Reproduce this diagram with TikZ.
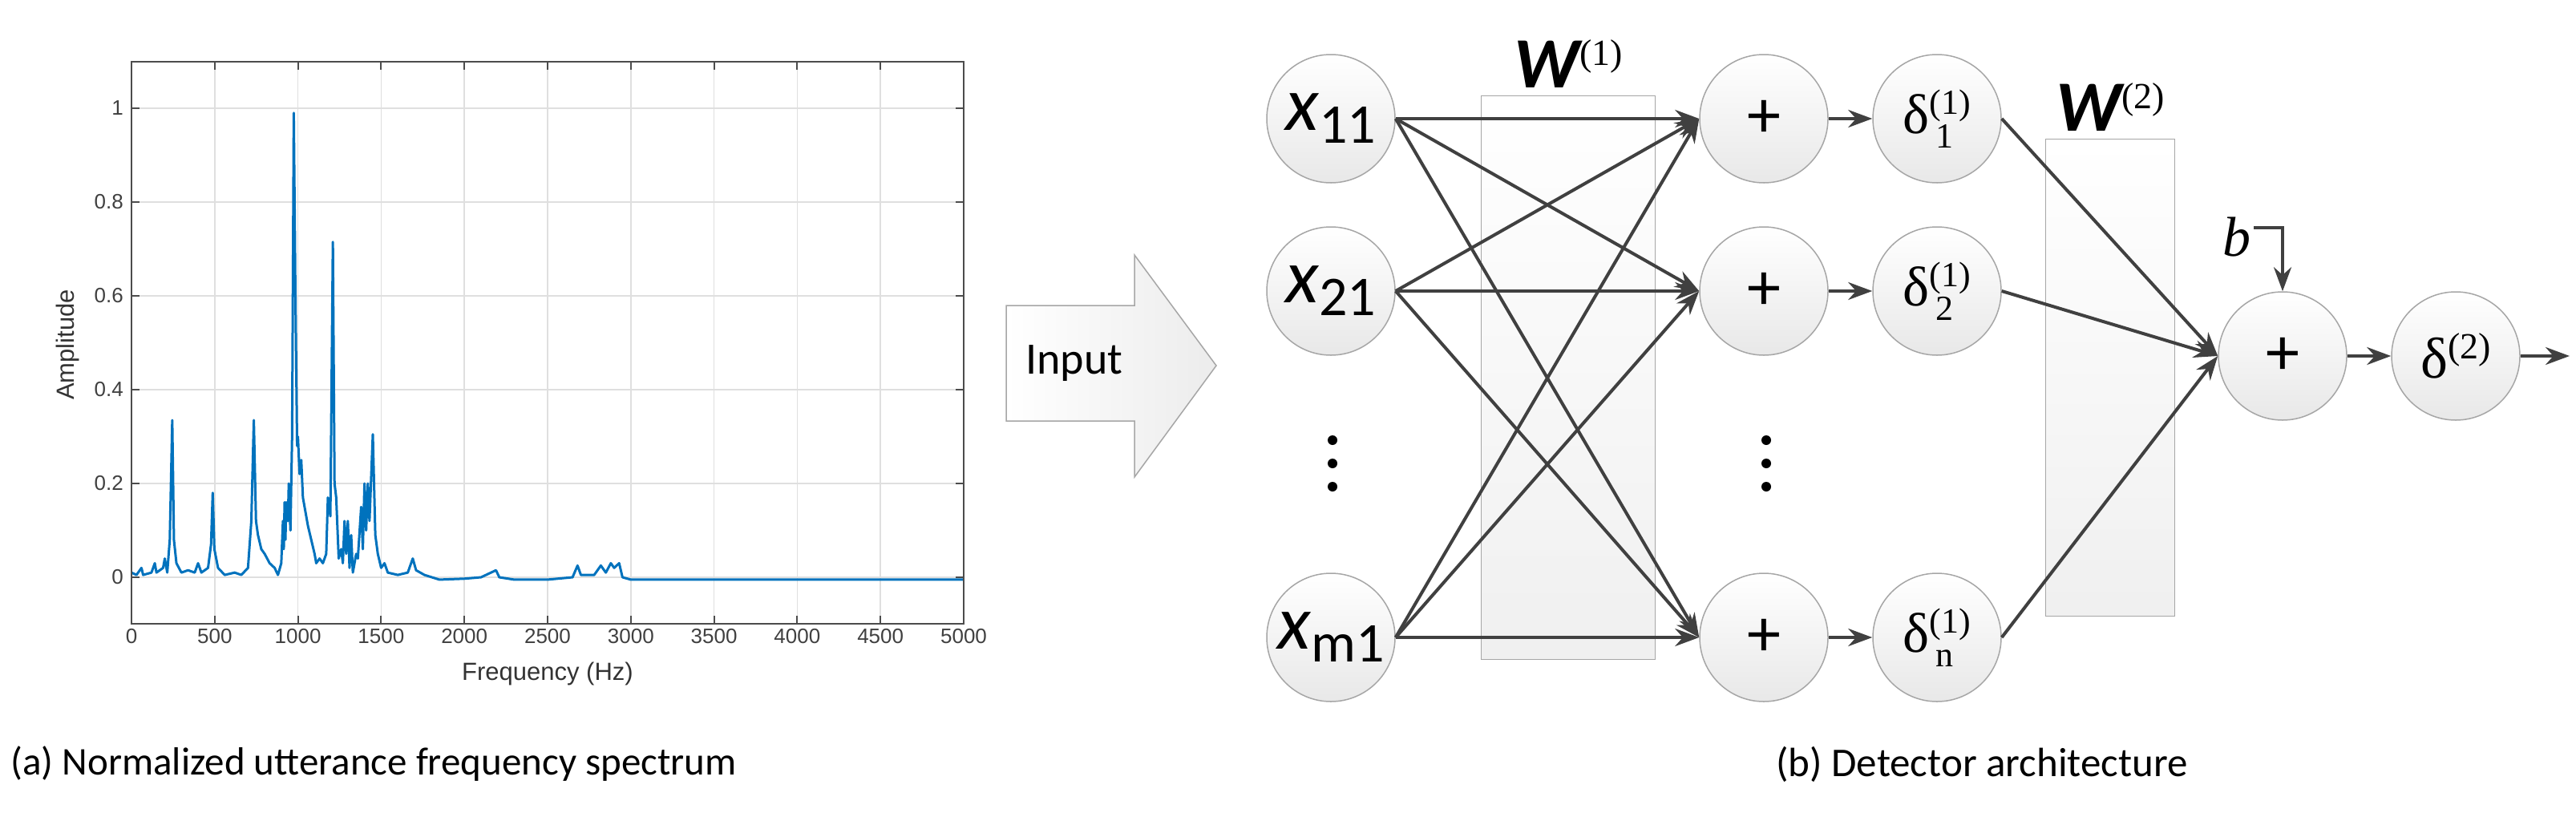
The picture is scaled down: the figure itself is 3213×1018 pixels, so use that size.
\documentclass[tikz,border=0pt]{standalone}
\usepackage{fontspec}
\setmainfont{Carlito}
\newfontfamily\arialf{Liberation Sans}
\newfontfamily\timesf{Liberation Serif}
\usetikzlibrary{arrows.meta}
\definecolor{lc}{HTML}{404040}
\definecolor{mblue}{HTML}{0072BD}
\newcommand{\fs}[1]{\fontsize{#1}{#1}\selectfont}
\newcommand{\dlab}[1]{{\timesf\fs{70}δ\rlap{\raisebox{-18pt}{\fs{44}\,#1}}\raisebox{24pt}{\fs{44}(1)}}}
\begin{document}
\begin{tikzpicture}[x=1pt,y=-1pt,
  neuron/.style={circle,minimum size=160pt,inner sep=0pt,draw=gray!70,line width=1.5pt,top color=white,bottom color=gray!18},
  conn/.style={draw=lc,line width=4pt,-{Stealth[length=30pt,width=22pt]}},
  wbox/.style={draw=gray!70,line width=1.5pt,top color=white,bottom color=gray!12},
  tick/.style={font=\arialf\fs{26},text=black!75,inner sep=2pt}]
\useasboundingbox (0,0) rectangle (3213,1018);
% ---------- plot ----------
\foreach \i in {0,...,10}{\draw[gray!25,line width=1.5pt] ({164+\i*103.8},77) -- ({164+\i*103.8},778);}
\foreach \i in {0,...,5}{\draw[gray!25,line width=1.5pt] (164,{720-\i*117}) -- (1202,{720-\i*117});}
\begin{scope}[shift={(164,720)},x=0.2076pt,y=585pt]
\draw[mblue,line width=3pt,line join=round] plot coordinates {(0,0.01)(30,0.005)(60,0.02)(70,0.005)(120,0.01)(140,0.03)(150,0.01)(190,0.02)(200,0.04)(215,0.01)(230,0.08)(245,0.335)(255,0.08)(270,0.03)(300,0.01)(340,0.015)(380,0.01)(400,0.03)(420,0.01)(460,0.02)(478,0.07)(488,0.18)(498,0.06)(520,0.02)(560,0.005)(620,0.01)(660,0.005)(700,0.02)(720,0.12)(735,0.335)(748,0.12)(760,0.09)(780,0.06)(800,0.05)(830,0.03)(860,0.02)(880,0.005)(900,0.03)(910,0.12)(915,0.06)(920,0.16)(925,0.08)(930,0.16)(940,0.12)(945,0.2)(955,0.1)(965,0.3)(975,0.99)(985,0.6)(995,0.28)(1000,0.3)(1010,0.22)(1020,0.25)(1030,0.17)(1040,0.15)(1060,0.11)(1080,0.08)(1100,0.05)(1110,0.03)(1130,0.04)(1150,0.03)(1170,0.05)(1180,0.17)(1195,0.13)(1210,0.715)(1220,0.2)(1230,0.17)(1245,0.04)(1260,0.06)(1270,0.03)(1280,0.12)(1290,0.05)(1300,0.12)(1310,0.02)(1320,0.09)(1330,0.01)(1350,0.05)(1360,0.04)(1380,0.15)(1390,0.06)(1400,0.2)(1410,0.1)(1420,0.2)(1430,0.12)(1450,0.305)(1465,0.09)(1480,0.05)(1500,0.02)(1520,0.03)(1540,0.01)(1600,0.005)(1660,0.01)(1690,0.04)(1710,0.015)(1760,0.005)(1850,-0.005)(2000,-0.003)(2100,0.0)(2190,0.015)(2210,0.0)(2300,-0.005)(2500,-0.005)(2650,0.0)(2680,0.025)(2700,0.005)(2780,0.005)(2820,0.025)(2850,0.01)(2880,0.03)(2900,0.02)(2930,0.03)(2950,0.0)(3000,-0.005)(3500,-0.005)(4000,-0.005)(4500,-0.005)(5000,-0.005)};
\end{scope}
\draw[black!70,line width=2pt] (164,77) rectangle (1202,778);
\foreach \i in {0,...,10}{
  \draw[black!70,line width=2pt] ({164+\i*103.8},778) -- ({164+\i*103.8},768) ({164+\i*103.8},77) -- ({164+\i*103.8},87);
  \pgfmathtruncatemacro\lab{\i*500}
  \node[tick,anchor=north] (xt\i) at ({164+\i*103.8},782) {\lab};}
\foreach \i/\l in {0/0,1/0.2,2/0.4,3/0.6,4/0.8,5/1}{
  \draw[black!70,line width=2pt] (164,{720-\i*117}) -- (174,{720-\i*117}) (1202,{720-\i*117}) -- (1192,{720-\i*117});
  \node[tick,anchor=east] (yt\i) at (156,{720-\i*117}) {\l};}
\node[font=\arialf\fs{31},text=black!80] (xl) at (683,840) {Frequency (Hz)};
\node[font=\arialf\fs{31},text=black!80,rotate=90] (yl) at (84,430) {Amplitude};
\node[font=\fs{49},anchor=west] (capa) at (10,953) {(a) Normalized utterance frequency spectrum};
% ---------- input arrow ----------
\draw[draw=gray!70,line width=1.5pt,left color=white,right color=gray!15]
  (1255,381) -- (1415,381) -- (1415,318) -- (1517,456) -- (1415,595) -- (1415,525) -- (1255,525) -- cycle;
\node[font=\fs{56}] (inp) at (1340,453) {Input};
% ---------- network ----------
\node[wbox,minimum width=217pt,minimum height=703pt,inner sep=0pt] (w1) at (1956,471) {};
\node[wbox,minimum width=161pt,minimum height=595pt,inner sep=0pt] (w2) at (2632,471) {};
\node (w1l) at (1956,80) {\fs{90}\bfseries\itshape W\raisebox{28pt}{\timesf\upshape\mdseries\fs{46}(1)}};
\node (w2l) at (2632,134) {\fs{90}\bfseries\itshape W\raisebox{28pt}{\timesf\upshape\mdseries\fs{46}(2)}};
\node[neuron] (x1) at (1660,148) {\fs{96}\itshape x\raisebox{-16pt}{\upshape\fs{70}11}};
\node[neuron] (x2) at (1660,363) {\fs{96}\itshape x\raisebox{-16pt}{\upshape\fs{70}21}};
\node[neuron] (x3) at (1660,795) {\fs{96}\itshape x\raisebox{-16pt}{\upshape\fs{70}m1}};
\node[neuron] (p1) at (2200,148) {\fs{84}+};
\node[neuron] (p2) at (2200,363) {\fs{84}+};
\node[neuron] (p3) at (2200,795) {\fs{84}+};
\node[neuron] (d1) at (2416,148) {\dlab{1}};
\node[neuron] (d2) at (2416,363) {\dlab{2}};
\node[neuron] (d3) at (2416,795) {\dlab{n}};
\node[neuron] (p4) at (2847,444) {\fs{84}+};
\node[neuron] (d4) at (3063,444) {{\timesf\fs{72}δ\raisebox{24pt}{\fs{46}(2)}}};
\foreach \y/\n in {549/a,578/b,607/c}{
  \fill[black] (1662,\y) circle (6pt);
  \fill[black] (2203,\y) circle (6pt);}
\node[font=\timesf\itshape\fs{70}] (b) at (2790,296) {b};
\coordinate (out) at (3205,444);
\foreach \i in {1,2,3}{\foreach \j in {1,2,3}{\draw[conn] (x\i.east) -- (p\j.west);}}
\foreach \i in {1,2,3}{\draw[conn] (p\i) -- (d\i); \draw[conn] (d\i.east) -- (p4.west);}
\draw[conn] (p4) -- (d4);
\draw[conn] (d4) -- (out);
\draw[conn] (b.east|-2821,284) -- (2847,284) -- (p4.north);
\node[font=\fs{51}] (capb) at (2472,953) {(b) Detector architecture};
\end{tikzpicture}
\end{document}
